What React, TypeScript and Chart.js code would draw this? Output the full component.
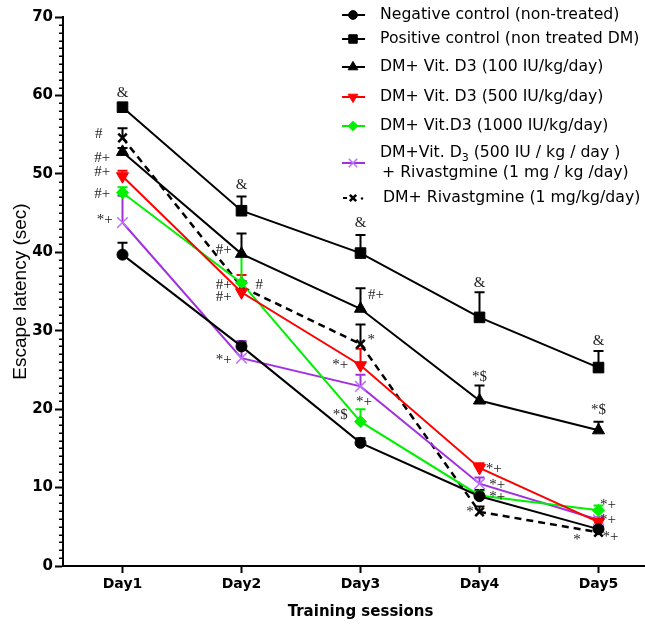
import React, { useEffect, useRef } from 'react';
import { Chart, registerables } from 'chart.js';
import { drawPoint } from 'chart.js/helpers';

Chart.register(...registerables);

// ---------- data ----------
const days = [1, 2, 3, 4, 5];
const dayLabels = ['Day1', 'Day2', 'Day3', 'Day4', 'Day5'];
const yTicks = [0, 10, 20, 30, 40, 50, 60, 70];

const negative = [39.7, 28.0, 15.7, 8.9, 4.7];
const negativeErr = [1.5, 0.5, 0.6, 0.8, 0.4];
const positive = [58.5, 45.3, 39.9, 31.7, 25.3];
const positiveErr = [0.4, 1.8, 2.3, 3.2, 2.1];
const vd100 = [52.8, 39.8, 32.8, 21.1, 17.3];
const vd100Err = [0.5, 2.6, 2.6, 1.9, 1.1];
const vd500 = [49.7, 34.9, 25.6, 12.5, 5.6];
const vd500Err = [0.7, 2.2, 2.1, 0.6, 0.4];
const vd1000 = [47.6, 36.1, 18.4, 9.0, 7.1];
const vd1000Err = [0.7, 3.5, 1.6, 0.5, 0.6];
const combo = [43.8, 26.5, 22.9, 10.5, 5.9];
const comboErr = [3.4, 2.2, 1.5, 0.8, 0.3];
const rivas = [54.6, 35.6, 28.3, 6.9, 4.3];
const rivasErr = [1.2, 0.7, 2.5, 0.7, 0.3];

const seriesNames = [
  'Negative control (non-treated)',
  'Positive control (non treated DM)',
  'DM+ Vit. D3 (100 IU/kg/day)',
  'DM+ Vit. D3 (500 IU/kg/day)',
  'DM+ Vit.D3 (1000 IU/kg/day)',
  'DM+Vit. D3 (500 IU / kg / day ) + Rivastgmine (1 mg / kg /day)',
  'DM+ Rivastgmine (1 mg/kg/day)',
];

// significance marks: [text, day position, value]
const marks: [string, number, number][] = [
  ['&', 1, 60.3], ['#', 0.8, 55.1], ['#+', 0.83, 52.0], ['#+', 0.83, 50.2], ['#+', 0.83, 47.4], ['*+', 0.85, 44.1],
  ['&', 2, 48.6], ['#+', 1.85, 40.3], ['#+', 1.85, 35.8], ['#+', 1.85, 34.3], ['#', 2.15, 35.8], ['*+', 1.85, 26.3],
  ['&', 3, 43.7], ['#+', 3.13, 34.5], ['*', 3.09, 28.8], ['*+', 2.83, 25.6], ['*+', 3.03, 20.9], ['*$', 2.83, 19.2],
  ['&', 4, 36.1], ['*$', 4, 24.1], ['*+', 4.12, 12.4], ['*+', 4.15, 10.3], ['*+', 4.15, 8.8], ['*', 3.92, 6.9],
  ['&', 5, 28.7], ['*$', 5, 19.9], ['*+', 5.08, 7.8], ['*+', 5.08, 5.9], ['*+', 5.1, 3.7], ['*', 4.82, 3.3],
];

const SANS = 'DejaVu Sans';
const LEGEND_FONT = `15.7px "${SANS}"`;

type Style = { color: string; pointColor: string; pointStyle: string; radius: number; rotation: number; dash: number[]; lineWidth: number; pointBorder: number };

const styles: Style[] = [
  { color: '#000000', pointColor: '#000000', pointStyle: 'circle', radius: 5.5, rotation: 0, dash: [], lineWidth: 2, pointBorder: 1 },
  { color: '#000000', pointColor: '#000000', pointStyle: 'rect', radius: 7.5, rotation: 0, dash: [], lineWidth: 2, pointBorder: 1 },
  { color: '#000000', pointColor: '#000000', pointStyle: 'triangle', radius: 7, rotation: 0, dash: [], lineWidth: 2, pointBorder: 1 },
  { color: '#ff0000', pointColor: '#ff0000', pointStyle: 'triangle', radius: 7, rotation: 180, dash: [], lineWidth: 2, pointBorder: 1 },
  { color: '#00f000', pointColor: '#00f000', pointStyle: 'rectRot', radius: 6, rotation: 0, dash: [], lineWidth: 2, pointBorder: 1 },
  { color: '#a030e0', pointColor: '#c070ff', pointStyle: 'crossRot', radius: 7.5, rotation: 0, dash: [], lineWidth: 2, pointBorder: 1.5 },
  { color: '#000000', pointColor: '#000000', pointStyle: 'crossRot', radius: 6, rotation: 0, dash: [7, 5], lineWidth: 2.5, pointBorder: 2.5 },
];

const values = [negative, positive, vd100, vd500, vd1000, combo, rivas];
const errors = [negativeErr, positiveErr, vd100Err, vd500Err, vd1000Err, comboErr, rivasErr];

const errorBarPlugin = {
  id: 'errorBars',
  beforeDatasetsDraw(chart: any) {
    const ctx = chart.ctx;
    const ys = chart.scales.y;
    chart.data.datasets.forEach((ds: any, i: number) => {
      const meta = chart.getDatasetMeta(i);
      meta.data.forEach((pt: any, j: number) => {
        const top = ys.getPixelForValue(ds.data[j].y + ds.errs[j]);
        ctx.save();
        ctx.strokeStyle = ds.borderColor;
        ctx.lineWidth = 2;
        ctx.setLineDash([]);
        ctx.beginPath();
        ctx.moveTo(pt.x, pt.y);
        ctx.lineTo(pt.x, top);
        ctx.moveTo(pt.x - 5, top);
        ctx.lineTo(pt.x + 5, top);
        ctx.stroke();
        ctx.restore();
      });
    });
  },
};

const decorPlugin = {
  id: 'decor',
  afterDraw(chart: any) {
    const ctx = chart.ctx;
    const ys = chart.scales.y;
    const xs = chart.scales.x;
    const left = chart.chartArea.left;
    ctx.save();
    // minor ticks
    ctx.strokeStyle = '#000';
    ctx.lineWidth = 1.5;
    for (let v = 1; v < 70; v++) {
      if (v % 10 === 0) continue;
      const py = Math.round(ys.getPixelForValue(v)) + 0.25;
      ctx.beginPath();
      ctx.moveTo(left - 4, py);
      ctx.lineTo(left, py);
      ctx.stroke();
    }
    // significance marks
    ctx.fillStyle = '#222';
    ctx.font = '15px "Liberation Serif"';
    ctx.textAlign = 'center';
    ctx.textBaseline = 'middle';
    marks.forEach(([t, d, v]) => {
      ctx.fillText(t, xs.getPixelForValue(d), ys.getPixelForValue(v));
    });
    // legend
    const rowsY = [15, 39, 67, 97, 126, 163, 198];
    const mx = 353;
    ctx.textAlign = 'left';
    ctx.font = LEGEND_FONT;
    ctx.fillStyle = '#000';
    styles.forEach((s, i) => {
      const y = rowsY[i];
      ctx.save();
      ctx.strokeStyle = s.color;
      ctx.lineWidth = 2;
      if (i === 6) {
        ctx.beginPath();
        ctx.moveTo(343, y); ctx.lineTo(347, y);
        ctx.stroke();
        ctx.fillStyle = '#000';
        ctx.beginPath();
        ctx.arc(362, y + 0.5, 1.2, 0, Math.PI * 2);
        ctx.fill();
      } else {
        ctx.beginPath();
        ctx.moveTo(342, y); ctx.lineTo(365, y);
        ctx.stroke();
      }
      ctx.strokeStyle = s.pointColor;
      ctx.fillStyle = s.pointColor;
      ctx.lineWidth = s.pointBorder;
      drawPoint(ctx, { pointStyle: s.pointStyle as any, radius: i === 6 ? 4.5 : s.radius * 0.8, rotation: s.rotation, borderWidth: s.pointBorder }, mx, y);
      ctx.restore();
      ctx.fillStyle = '#000';
      ctx.textBaseline = 'middle';
      ctx.font = LEGEND_FONT;
      if (i === 5) {
        const y1 = 153, y2 = 173;
        let x = 380;
        ctx.fillText('DM+Vit. D', x, y1);
        x += ctx.measureText('DM+Vit. D').width;
        ctx.font = `11px "${SANS}"`;
        ctx.fillText('3', x, y1 + 5);
        x += ctx.measureText('3').width;
        ctx.font = LEGEND_FONT;
        ctx.fillText(' (500 IU / kg / day )', x, y1);
        ctx.fillText('+ Rivastgmine (1 mg / kg /day)', 382, y2);
      } else {
        ctx.fillText(seriesNames[i], i === 6 ? 383 : 380, y);
      }
    });
    ctx.restore();
  },
};

export default function App() {
  const ref = useRef<HTMLCanvasElement>(null);
  useEffect(() => {
    if (!ref.current) return;
    const datasets = values.map((arr, i) => {
      const s = styles[i];
      return {
        label: seriesNames[i],
        data: days.map((d, j) => ({ x: d, y: arr[j] })),
        errs: errors[i],
        borderColor: s.color,
        backgroundColor: s.pointColor,
        pointBackgroundColor: s.pointColor,
        pointBorderColor: s.pointColor,
        pointStyle: s.pointStyle,
        pointRadius: s.radius,
        pointRotation: s.rotation,
        pointBorderWidth: s.pointBorder,
        borderWidth: s.lineWidth,
        borderDash: s.dash,
        tension: 0,
        fill: false,
        clip: false,
      } as any;
    });
    const chart = new Chart(ref.current, {
      type: 'line',
      data: { datasets },
      options: {
        animation: false,
        responsive: false,
        devicePixelRatio: 1,
        layout: { autoPadding: false, padding: { top: 17, right: 0, left: 0, bottom: 0 } },
        plugins: { legend: { display: false }, tooltip: { enabled: false } },
        scales: {
          x: {
            type: 'linear',
            min: 0.5,
            max: 5.5,
            afterBuildTicks: (s: any) => { s.ticks = days.map((v) => ({ value: v })); },
            afterFit: (s: any) => { s.height = 64; s.paddingRight = 0; s.paddingLeft = 0; },
            ticks: {
              callback: (v: any) => { const k = days.indexOf(Number(v)); return k >= 0 ? dayLabels[k] : ''; },
              color: '#000',
              font: { family: SANS, size: 14, weight: 'bold' },
              padding: 3,
              maxRotation: 0,
              autoSkip: false,
            },
            grid: { drawOnChartArea: false, drawTicks: true, tickLength: 7, tickWidth: 2, tickColor: '#000' },
            border: { display: true, color: '#000', width: 2 },
            title: { display: true, text: 'Training sessions', color: '#000', font: { family: SANS, size: 15, weight: 'bold' }, padding: { top: 0, bottom: 9 } },
          },
          y: {
            min: 0,
            max: 70,
            afterBuildTicks: (s: any) => { s.ticks = yTicks.map((v) => ({ value: v })); },
            afterFit: (s: any) => { s.width = 63; },
            ticks: { color: '#000', font: { family: SANS, size: 15, weight: 'bold' }, padding: 2 },
            grid: { drawOnChartArea: false, drawTicks: true, tickLength: 8, tickWidth: 2, tickColor: '#000' },
            border: { display: true, color: '#000', width: 2 },
            title: { display: true, text: 'Escape latency (sec)', color: '#000', font: { family: 'Liberation Sans', size: 19 }, padding: { top: 9, bottom: 0 } },
          },
        },
      } as any,
      plugins: [errorBarPlugin, decorPlugin],
    });
    return () => chart.destroy();
  }, []);
  return (
    <div style={{ position: 'absolute', left: 0, top: 0, width: 645, height: 630, overflow: 'hidden', background: '#fff' }}>
      <canvas ref={ref} width={658} height={630} style={{ display: 'block' }} />
    </div>
  );
}
